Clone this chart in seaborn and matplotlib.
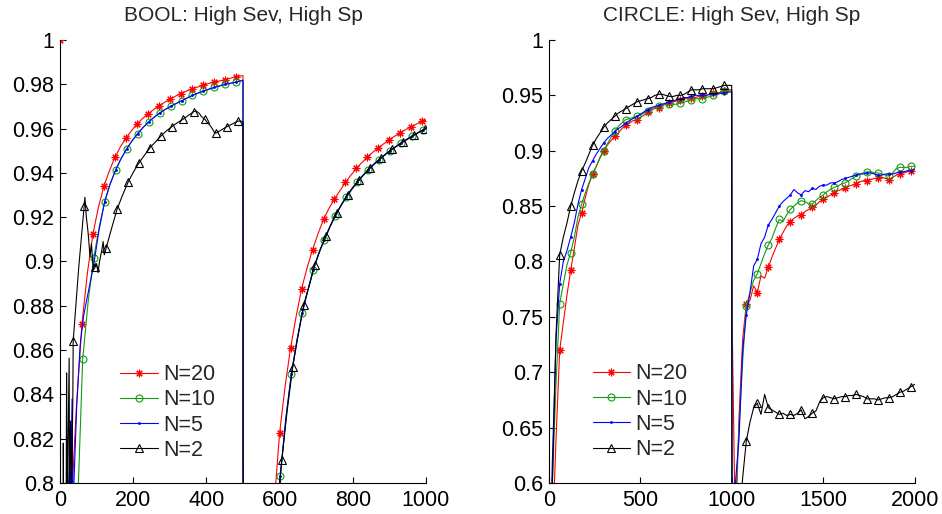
import numpy as np
import matplotlib
matplotlib.use("Agg")
import matplotlib.pyplot as plt
from matplotlib.ticker import FuncFormatter
import seaborn as sns

sns.set_style("white")
plt.rcParams['font.family'] = ['Liberation Sans', 'DejaVu Sans']

# ---------------- BOOL panel (left) ----------------
bool_title = "BOOL: High Sev, High Sp"
labels = ["N=20", "N=10", "N=5", "N=2"]

bool_x_n20 = [0, 2, 15, 30, 36, 45, 60, 75, 90, 105, 120, 135, 150, 165, 180, 195, 210, 225, 240, 255,
              270, 285, 300, 315, 330, 345, 360, 375, 390, 405, 420, 435, 450, 465, 480, 495, 500, 501,
              510, 525, 540, 555, 570, 585, 600, 615, 630, 645, 660, 675, 690, 705, 720, 735, 750, 765,
              780, 795, 810, 825, 840, 855, 870, 885, 900, 915, 930, 945, 960, 975, 990, 1000]
bool_y_n20 = [1.0, 0.45, 0.68, 0.785, 0.806, 0.835,
              0.872, 0.895, 0.9125, 0.9245, 0.934, 0.941, 0.947, 0.9518, 0.9556, 0.959,
              0.962, 0.9645, 0.9665, 0.9685, 0.9702, 0.9718, 0.9732, 0.9746, 0.9758, 0.9769,
              0.9779, 0.9787, 0.9795, 0.9803, 0.981, 0.9815, 0.982, 0.9827, 0.9834, 0.9838,
              0.9839, 0.45,
              0.52, 0.6, 0.66, 0.71, 0.75, 0.79,
              0.8225, 0.8435, 0.861, 0.875, 0.8876, 0.897, 0.9053, 0.9125, 0.919, 0.924,
              0.9282, 0.932, 0.9357, 0.939, 0.942, 0.9447, 0.9472, 0.9494, 0.9514, 0.9532,
              0.955, 0.9566, 0.9581, 0.9596, 0.9609, 0.9621, 0.9633,
              0.9638]

bool_x_n10 = [2, 17, 32, 47, 52, 62, 77, 92, 107, 122, 137, 152, 167, 182, 197, 212, 227, 242, 257, 272,
              287, 302, 317, 332, 347, 362, 377, 392, 407, 422, 437, 452, 467, 482, 497, 500, 501,
              512, 527, 542, 557, 572, 587, 602, 617, 632, 647, 662, 677, 692, 707, 722, 737, 752, 767,
              782, 797, 812, 827, 842, 857, 872, 887, 902, 917, 932, 947, 962, 977, 992, 1000]
bool_y_n10 = [0.45, 0.62, 0.72, 0.785, 0.808,
              0.856, 0.882, 0.9015, 0.9155, 0.927, 0.935, 0.9413, 0.9465, 0.9508, 0.9545,
              0.9577, 0.9605, 0.963, 0.9651, 0.967, 0.9686, 0.97, 0.9713, 0.9725, 0.9738,
              0.975, 0.976, 0.977, 0.9778, 0.9786, 0.9793, 0.98, 0.9805, 0.981, 0.9817,
              0.9818, 0.45,
              0.5, 0.58, 0.64, 0.69, 0.73, 0.77,
              0.803, 0.829, 0.849, 0.864, 0.8767, 0.887, 0.8962, 0.9035, 0.9098, 0.9155,
              0.9205, 0.925, 0.929, 0.9325, 0.9357, 0.9386, 0.9413, 0.9437, 0.9459, 0.948,
              0.95, 0.9517, 0.9534, 0.955, 0.9565, 0.958, 0.9594,
              0.96]

bool_x_n5 = [0, 10, 18, 20, 23, 26, 29, 33, 35, 38, 46, 55, 64, 77, 92, 107,
             122, 137, 152, 167, 182, 197, 212, 227, 242, 257, 272, 287, 302, 317, 332, 347,
             362, 377, 392, 407, 422, 437, 452, 467, 482, 497, 500, 501,
             512, 527, 542, 557, 572, 587, 602, 617, 632, 647, 662, 677, 692, 707, 722, 737, 752, 767,
             782, 797, 812, 827, 842, 857, 872, 887, 902, 917, 932, 947, 962, 977, 992, 1000]
bool_y_n5 = [0.5, 0.65, 0.78, 0.82, 0.79, 0.805, 0.80, 0.838, 0.79, 0.80, 0.836, 0.862, 0.875, 0.886,
             0.8985, 0.9145,
             0.927, 0.935, 0.9413, 0.9465, 0.9508, 0.9545, 0.9577, 0.9605, 0.963, 0.9651,
             0.967, 0.9686, 0.97, 0.9713, 0.9725, 0.9738, 0.975, 0.976, 0.977, 0.9778,
             0.9786, 0.9793, 0.98, 0.9805, 0.981, 0.9817,
             0.9818, 0.45,
             0.5, 0.58, 0.64, 0.69, 0.73, 0.77,
             0.803, 0.829, 0.849, 0.864, 0.8767, 0.887, 0.8962, 0.9035, 0.9098, 0.9155,
             0.9205, 0.925, 0.929, 0.9325, 0.9357, 0.9386, 0.9413, 0.9437, 0.9459, 0.948,
             0.95, 0.9517, 0.9534, 0.955, 0.9565, 0.958, 0.9594,
             0.96]

bool_x_n2 = [0, 6, 9, 10, 13, 17, 18, 20, 25, 26, 29, 31, 35, 36,
             51, 66, 68, 72, 77, 82, 86, 91, 96, 100, 104, 108, 114, 118, 121,
             126, 141, 156, 171, 186, 201, 216, 231, 246, 261, 276, 291, 306, 321, 336, 351, 366,
             372, 381, 386, 391, 396, 401, 406, 411, 416, 421, 426,
             441, 456, 471, 486, 496, 500, 501,
             516, 531, 546, 561, 576, 591, 606, 621, 636, 651, 666, 681, 696, 711, 726, 741,
             756, 771, 786, 801, 816, 831, 846, 861, 876, 891, 906, 921, 936, 951, 966, 981, 996, 1000]
bool_y_n2 = [0.5, 0.62, 0.818, 0.78, 0.79, 0.80, 0.8497, 0.79, 0.8564, 0.80, 0.828, 0.795, 0.8367, 0.864,
             0.897, 0.925, 0.929, 0.92, 0.9127, 0.902, 0.908, 0.896, 0.8975, 0.899, 0.895, 0.90, 0.905,
             0.909, 0.903,
             0.906, 0.915, 0.9236, 0.930, 0.9358, 0.9405, 0.9446, 0.948, 0.9514, 0.954, 0.9567, 0.959,
             0.9609, 0.9627, 0.9642, 0.966, 0.9677,
             0.968, 0.9668, 0.9655, 0.9648, 0.9642, 0.963, 0.9622, 0.9612, 0.96, 0.9585, 0.9579,
             0.9594, 0.9609, 0.9621, 0.9634, 0.9633, 0.963, 0.45,
             0.52, 0.6, 0.66, 0.71, 0.75, 0.785,
             0.8105, 0.833, 0.8525, 0.867, 0.8805, 0.889, 0.8985, 0.9055, 0.9113, 0.917,
             0.922, 0.9263, 0.9302, 0.9337, 0.9367, 0.9395, 0.9422, 0.9445, 0.9466, 0.9487,
             0.9506, 0.9523, 0.954, 0.9555, 0.957, 0.9584, 0.9597, 0.96]

# ---------------- CIRCLE panel (right) ----------------
circle_title = "CIRCLE: High Sev, High Sp"
circle_x = list(range(0, 1001, 20)) + [1002] + list(range(1020, 2001, 20))

circle_n20 = [0.50, 0.55, 0.64, 0.72, 0.745, 0.770, 0.792, 0.812, 0.833, 0.844,
              0.858, 0.870, 0.879, 0.886, 0.894, 0.900, 0.905, 0.909, 0.913, 0.916,
              0.920, 0.923, 0.925, 0.927, 0.928, 0.930, 0.932, 0.935, 0.937, 0.938,
              0.939, 0.941, 0.942, 0.943, 0.944, 0.945, 0.946, 0.947, 0.947, 0.948,
              0.948, 0.949, 0.949, 0.950, 0.951, 0.952, 0.952, 0.953, 0.954, 0.955,
              0.955,
              0.75,
              0.55, 0.66, 0.73, 0.762, 0.765, 0.778, 0.772, 0.787, 0.785, 0.795,
              0.804, 0.812, 0.820, 0.826, 0.832, 0.836, 0.839, 0.841, 0.842, 0.845,
              0.847, 0.849, 0.851, 0.854, 0.856, 0.858, 0.860, 0.862, 0.864, 0.865,
              0.866, 0.868, 0.869, 0.870, 0.872, 0.873, 0.873, 0.874, 0.875, 0.875,
              0.876, 0.875, 0.874, 0.876, 0.878, 0.879, 0.880, 0.881, 0.882, 0.883]

circle_n10 = [0.50, 0.60, 0.69, 0.762, 0.78, 0.797, 0.808, 0.822, 0.840, 0.852,
              0.862, 0.871, 0.879, 0.886, 0.893, 0.900, 0.906, 0.912, 0.918, 0.922,
              0.925, 0.928, 0.929, 0.930, 0.931, 0.932, 0.934, 0.936, 0.938, 0.939,
              0.940, 0.941, 0.942, 0.942, 0.942, 0.942, 0.943, 0.944, 0.945, 0.946,
              0.947, 0.947, 0.947, 0.948, 0.949, 0.950, 0.951, 0.952, 0.954, 0.954,
              0.954,
              0.45,
              0.58, 0.65, 0.71, 0.76, 0.772, 0.783, 0.789, 0.798, 0.807, 0.815,
              0.821, 0.830, 0.838, 0.836, 0.842, 0.847, 0.850, 0.853, 0.855, 0.854,
              0.852, 0.852, 0.855, 0.858, 0.860, 0.863, 0.865, 0.867, 0.868, 0.870,
              0.871, 0.873, 0.875, 0.877, 0.879, 0.880, 0.881, 0.881, 0.880, 0.880,
              0.879, 0.878, 0.877, 0.880, 0.884, 0.885, 0.885, 0.885, 0.886, 0.886]

circle_n5 = [0.50, 0.62, 0.73, 0.78, 0.80, 0.81, 0.822, 0.835, 0.852, 0.865,
             0.875, 0.885, 0.891, 0.897, 0.902, 0.907, 0.911, 0.914, 0.917, 0.920,
             0.922, 0.925, 0.927, 0.929, 0.931, 0.933, 0.935, 0.937, 0.939, 0.940,
             0.941, 0.942, 0.943, 0.944, 0.945, 0.946, 0.947, 0.948, 0.948, 0.949,
             0.950, 0.950, 0.950, 0.950, 0.951, 0.951, 0.951, 0.952, 0.952, 0.953,
             0.953,
             0.45,
             0.60, 0.64, 0.72, 0.752, 0.772, 0.796, 0.802, 0.816, 0.822, 0.833,
             0.838, 0.844, 0.850, 0.854, 0.857, 0.860, 0.865, 0.862, 0.860, 0.864,
             0.863, 0.866, 0.865, 0.868, 0.869, 0.869, 0.871, 0.871, 0.872, 0.874,
             0.875, 0.876, 0.877, 0.878, 0.879, 0.879, 0.880, 0.880, 0.879, 0.878,
             0.878, 0.879, 0.879, 0.879, 0.880, 0.881, 0.881, 0.882, 0.882, 0.883]

circle_n2 = [0.50, 0.60, 0.735, 0.806, 0.822, 0.835, 0.850, 0.862, 0.873, 0.882,
             0.889, 0.897, 0.905, 0.911, 0.916, 0.921, 0.925, 0.928, 0.931, 0.934,
             0.936, 0.938, 0.940, 0.942, 0.944, 0.945, 0.946, 0.947, 0.948, 0.950,
             0.951, 0.951, 0.950, 0.949, 0.949, 0.950, 0.950, 0.951, 0.953, 0.955,
             0.955, 0.955, 0.956, 0.956, 0.956, 0.956, 0.957, 0.958, 0.959, 0.959,
             0.959,
             0.40,
             0.50, 0.56, 0.605, 0.638, 0.655, 0.668, 0.672, 0.662, 0.680, 0.668,
             0.666, 0.664, 0.662, 0.663, 0.661, 0.662, 0.661, 0.663, 0.666, 0.658,
             0.660, 0.663, 0.665, 0.673, 0.677, 0.678, 0.677, 0.676, 0.677, 0.678,
             0.678, 0.679, 0.679, 0.680, 0.679, 0.678, 0.676, 0.676, 0.676, 0.675,
             0.676, 0.677, 0.677, 0.678, 0.680, 0.682, 0.683, 0.685, 0.687, 0.689]

# ---------------- styles ----------------
colors = ["#ff0000", "#149a14", "#0000ff", "#000000"]
FS = 15.5
FS_TITLE = 15


def series(ax, x, y, color, style, label, step, phase):
    xa = np.asarray(x)
    mask = list((xa % step) == phase)
    sns.lineplot(x=xa, y=np.asarray(y), ax=ax, color=color, label=label,
                 sort=False, estimator=None, lw=0.8, markevery=mask, **style)


styles = [
    dict(marker=(8, 2, 0), markersize=5.5, markeredgewidth=0.8, markeredgecolor=colors[0]),
    dict(marker="o", markersize=5, markeredgewidth=0.8, markerfacecolor="none",
         markeredgecolor=colors[1]),
    dict(marker=".", markersize=3, markeredgewidth=0.5, markeredgecolor=colors[2]),
    dict(marker="^", markersize=6, markeredgewidth=0.8, markerfacecolor="none",
         markeredgecolor=colors[3]),
]

fig = plt.figure(figsize=(9.42, 5.14), dpi=100)
axL = fig.add_axes([0.0637, 0.0603, 0.3885, 0.8619])
axR = fig.add_axes([0.5825, 0.0603, 0.3885, 0.8619])

left_data = [(bool_x_n20, bool_y_n20, 0), (bool_x_n10, bool_y_n10, 2),
             (bool_x_n5, bool_y_n5, 2), (bool_x_n2, bool_y_n2, 6)]
for (x, y, ph), c, st, lab in zip(left_data, colors, styles, labels):
    series(axL, x, y, c, st, lab, 30, ph)

for y, c, st, lab in zip([circle_n20, circle_n10, circle_n5, circle_n2], colors, styles, labels):
    series(axR, circle_x, y, c, st, lab, 60, 0)

fmt = FuncFormatter(lambda v, p: f"{v:g}")
for ax, title, xlim, ylim, xt, yt, leg_anchor in [
        (axL, bool_title, (0, 1000), (0.8, 1.0), np.arange(0, 1001, 200),
         np.linspace(0.8, 1.0, 11), (0.164, 0.159)),
        (axR, circle_title, (0, 2000), (0.6, 1.0), np.arange(0, 2001, 500),
         np.linspace(0.6, 1.0, 9), (0.120, 0.161))]:
    ax.set_xlim(*xlim)
    ax.set_ylim(*ylim)
    ax.set_xticks(xt)
    ax.set_yticks(yt)
    ax.yaxis.set_major_formatter(fmt)
    ax.set_xlabel("")
    ax.set_ylabel("")
    ax.set_title(title, fontsize=FS_TITLE, pad=13.5)
    for s in ["top", "right"]:
        ax.spines[s].set_visible(False)
    for s in ["left", "bottom"]:
        ax.spines[s].set_color("black")
        ax.spines[s].set_linewidth(0.8)
    ax.tick_params(direction="in", length=4, width=0.8, labelsize=FS, colors="black",
                   left=True, bottom=True)
    ax.tick_params(axis="y", pad=4)
    ax.tick_params(axis="x", pad=5)
    ax.legend(loc="center left", bbox_to_anchor=leg_anchor, frameon=False, fontsize=FS,
              handlelength=1.75, handletextpad=0.25, labelspacing=0.2, borderpad=0,
              borderaxespad=0, numpoints=1)

fig.savefig("out.png", dpi=100)
